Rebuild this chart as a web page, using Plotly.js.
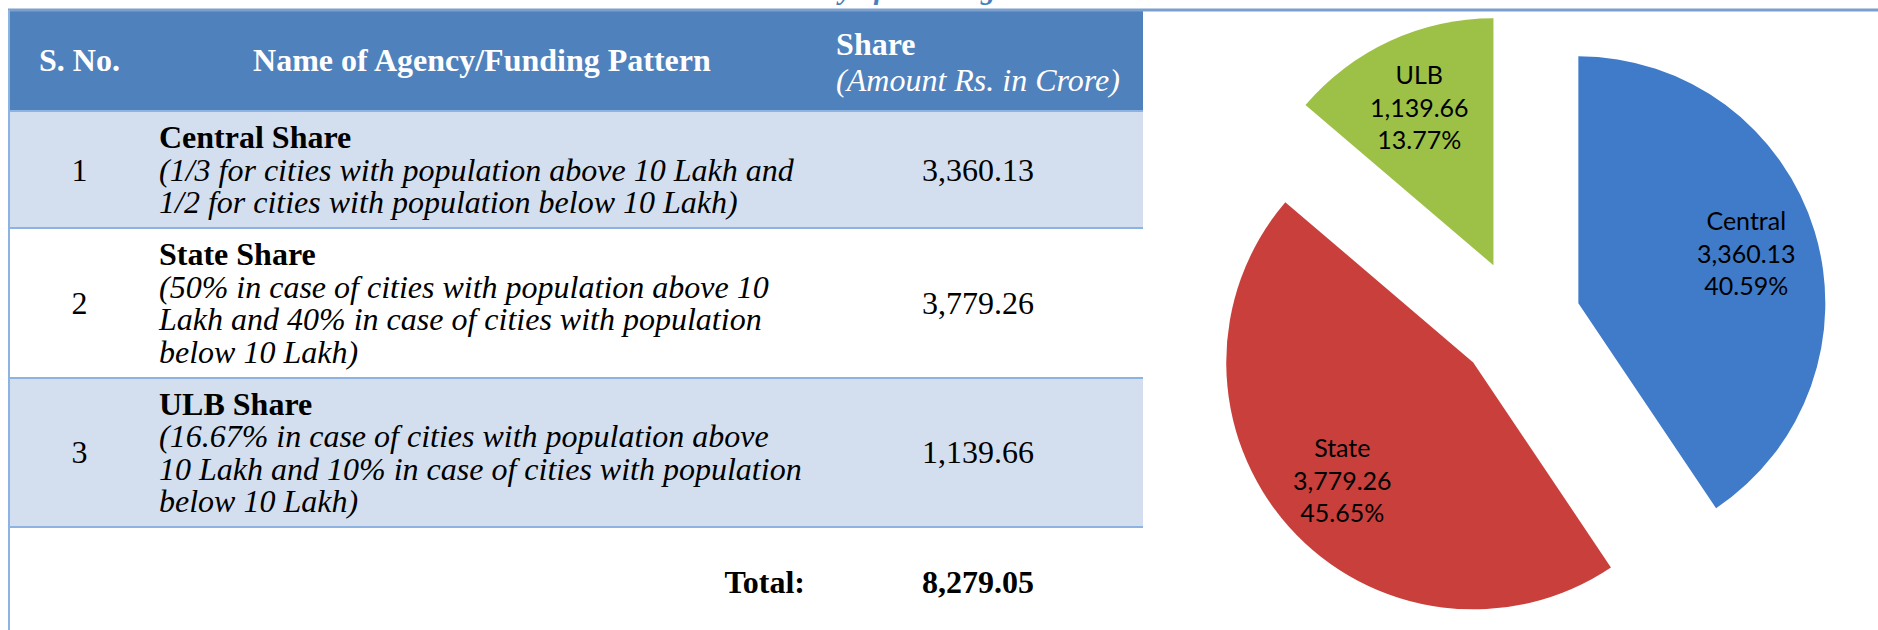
<!DOCTYPE html>
<html>
<head>
<meta charset="utf-8">
<script src="https://cdn.plot.ly/plotly-3.0.1.min.js"></script>
<style>
html,body{margin:0;padding:0;background:#ffffff;overflow:hidden;}
#chart{width:1878px;height:630px;}
</style>
</head>
<body>
<div id="chart"></div>
<script>
// ---------------- data ----------------
const serialNumbers = ['1', '2', '3'];
const agencyNames = ['Central Share', 'State Share', 'ULB Share'];
const fundingPatterns = [
  ['(1/3 for cities with population above 10 Lakh and',
   '1/2 for cities with population below 10 Lakh)'],
  ['(50% in case of cities with population above 10',
   'Lakh and 40% in case of cities with population',
   'below 10 Lakh)'],
  ['(16.67% in case of cities with population above',
   '10 Lakh and 10% in case of cities with population',
   'below 10 Lakh)']
];
const pieLabels = ['Central', 'State', 'ULB'];
const shareValues = [3360.13, 3779.26, 1139.66];
const headerLabels = ['S. No.', 'Name of Agency/Funding Pattern', 'Share', '(Amount Rs. in Crore)'];
const totalLabel = 'Total:';
const captionText = 'Summary of Funding Pattern';

// ---------------- styling helpers ----------------
const W = 1878, H = 630;
const TABLE_X0 = 8, TABLE_X1 = 1143, TABLE_TOP = 10;
const BASE = 25;            // table font size (sets line spacing)
const GLYPH = 32;           // visible glyph size
const LINE = BASE * 1.3;    // plotly line spacing
const fmt = v => v.toLocaleString('en-US', {minimumFractionDigits: 2, maximumFractionDigits: 2});
// shift > 0 moves text down (px)
const span = (t, shift) => '<span style="font-size:' + GLYPH + 'px' +
  (shift ? ';baseline-shift:' + (-shift) + 'px' : '') + '">' + t + '</span>';
const BLANK = span('\u00a0');

const band = '#d3dfee', white = '#ffffff', rule = '#8db3e2';
const total = shareValues.reduce((a, b) => a + b, 0);

// column contents
const col1 = [], col2 = [], col3 = [];
fundingPatterns.forEach((lines, i) => {
  const n = lines.length + 1;
  const shift = ((n - 1) / 2 - 1) * LINE;
  col1.push(BLANK + '<br>' + span(serialNumbers[i], shift));
  col2.push('<b>' + span(agencyNames[i]) + '</b><br>' +
            lines.map(l => '<i>' + span(l) + '</i>').join('<br>'));
  col3.push(BLANK + '<br>' + span(fmt(shareValues[i]), shift));
});
col1.push('');
col2.push(BLANK + '<br><b>' + span(totalLabel, -4) + '</b>');
col3.push(BLANK + '<br><b>' + span(fmt(total), -4) + '</b>');

const nRows = col1.length;
const fills = [0, 1, 2].map(() => col1.map((_, r) => (r % 2 === 0 && r < nRows - 1) ? band : white));
const aligns = [
  col1.map(() => 'center'),
  col2.map((_, r) => r === nRows - 1 ? 'right' : 'left'),
  col3.map(() => 'center')
];

const headerValues = [
  BLANK + '<br><b>' + span(headerLabels[0], -9) + '</b>',
  BLANK + '<br><b>' + span(headerLabels[1], -9) + '</b>',
  BLANK + '<br><b>' + span(headerLabels[2], -25) + '</b><br><i>' + span(headerLabels[3], -21) + '</i>'
];

const tableTrace = {
  type: 'table',
  domain: {x: [TABLE_X0 / W, TABLE_X1 / W], y: [0, 1 - TABLE_TOP / H]},
  columnwidth: [143, 662, 330],
  header: {
    values: headerValues,
    height: 101,
    align: 'center',
    fill: {color: '#4f81bd'},
    line: {width: 0, color: 'rgba(0,0,0,0)'},
    font: {family: 'Liberation Serif, Times New Roman, serif', size: BASE, color: '#ffffff'}
  },
  cells: {
    values: [col1, col2, col3],
    height: 110,
    align: aligns,
    fill: {color: fills},
    line: {width: 0, color: 'rgba(0,0,0,0)'},
    font: {family: 'Liberation Serif, Times New Roman, serif', size: BASE, color: '#000000'}
  }
};

const pullFrac = [0.25, 0.25, 0.25];
const LABEL_R = 0.71;   // label distance from slice vertex, as fraction of radius

const pieTrace = {
  type: 'pie',
  labels: pieLabels,
  values: shareValues,
  sort: false,
  direction: 'clockwise',
  rotation: 0,
  pull: pullFrac,
  marker: {colors: ['#3f7bc9', '#c83f3b', '#9dc047'], line: {width: 0}},
  textinfo: 'none',
  domain: {x: [0.643, 0.975], y: [0, 0.98]},
  hoverinfo: 'none',
  showlegend: false
};

const baseShapes = [
  {type: 'line', xref: 'paper', yref: 'paper', x0: TABLE_X0 / W, x1: 1, y0: 1 - TABLE_TOP / H, y1: 1 - TABLE_TOP / H,
   line: {color: '#7ba0cd', width: 3}},
  {type: 'line', xref: 'paper', yref: 'paper', x0: 9 / W, x1: 9 / W, y0: 0, y1: 1 - TABLE_TOP / H,
   line: {color: rule, width: 2}}
];

const layout = {
  width: W, height: H,
  margin: {l: 0, r: 0, t: 0, b: 0},
  paper_bgcolor: '#ffffff',
  showlegend: false,
  shapes: baseShapes,
  annotations: [
    {text: '<i><b>' + captionText + '</b></i>', xref: 'paper', yref: 'paper',
     x: 913 / W, y: 1, xanchor: 'center', yanchor: 'bottom', yshift: -7, showarrow: false,
     font: {family: 'Liberation Serif, serif', size: 29, color: '#4a7ebf'}}
  ]
};

Plotly.newPlot('chart', [tableTrace, pieTrace], layout, {displayModeBar: false, staticPlot: true})
.then(gd => {
  const update = {};
  // slice labels, placed with the pie geometry Plotly computed
  try {
    const cd = gd.calcdata.find(c => c[0] && c[0].trace && c[0].trace.type === 'pie');
    const c0 = cd[0];
    const labelAnns = cd.map((pt, i) => {
      const f = pullFrac[i] + LABEL_R;
      const px = c0.cx + f * pt.pxmid[0];
      const py = c0.cy + f * pt.pxmid[1];
      return {
        text: pieLabels[i] + '<br>' + fmt(shareValues[i]) + '<br>' +
              (shareValues[i] / total * 100).toFixed(2) + '%',
        xref: 'paper', yref: 'paper', x: px / W, y: 1 - py / H,
        xanchor: 'center', yanchor: 'middle', showarrow: false, align: 'center',
        font: {family: 'Lato, Open Sans, sans-serif', size: 25, color: '#000000'}
      };
    });
    update.annotations = layout.annotations.concat(labelAnns);
  } catch (e) {
    Plotly.restyle(gd, {textinfo: 'label+value+percent', textposition: 'inside'}, [1]);
  }
  // row rules at the row edges the table trace actually rendered
  try {
    const top0 = gd.getBoundingClientRect().top;
    const edges = new Set();
    gd.querySelectorAll('.table rect').forEach(el => {
      const b = el.getBoundingClientRect();
      if (b.width > 50 && b.height > 5) edges.add(Math.round(b.top - top0));
    });
    const ys = Array.from(edges).filter(y => y > TABLE_TOP + 20 && y < H - 2).sort((a, b) => a - b);
    const rules = ys.map(y => ({type: 'line', xref: 'paper', yref: 'paper',
      x0: TABLE_X0 / W, x1: TABLE_X1 / W, y0: 1 - y / H, y1: 1 - y / H,
      line: {color: rule, width: 2}}));
    update.shapes = baseShapes.concat(rules);
  } catch (e) { /* keep base shapes */ }
  return Plotly.relayout(gd, update);
});
</script>
</body>
</html>
